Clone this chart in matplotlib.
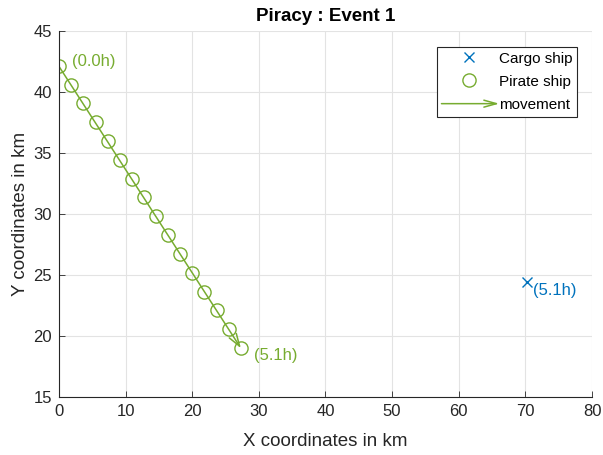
import matplotlib
matplotlib.use('Agg')
import matplotlib.pyplot as plt
from matplotlib.patches import FancyArrowPatch
from matplotlib.legend_handler import HandlerPatch

plt.rcParams['font.family'] = ['Liberation Sans', 'DejaVu Sans']

# Pirate ship track (km)
pirate_x = [0.0, 1.8, 3.6, 5.5, 7.3, 9.1, 10.9, 12.7, 14.6, 16.4, 18.2, 20.0, 21.8, 23.7, 25.5, 27.3]
pirate_y = [42.1, 40.6, 39.1, 37.5, 36.0, 34.4, 32.9, 31.4, 29.8, 28.3, 26.7, 25.2, 23.6, 22.1, 20.6, 19.0]
pirate_labels = ['(0.0h)', '(5.1h)']

# Cargo ship position (km)
cargo_x = [70.2]
cargo_y = [24.4]
cargo_label = '(5.1h)'

green = '#77AC30'
blue = '#0072BD'
dark = '#262626'


# Legend handler drawing an arrow for the movement entry
class HandlerArrow(HandlerPatch):
    def create_artists(self, legend, orig_handle, xdescent, ydescent,
                       width, height, fontsize, trans):
        arrow = FancyArrowPatch((-xdescent, height / 2), (width - xdescent + 2, height / 2),
                                arrowstyle='->,head_length=9,head_width=2.5',
                                color=green, lw=1.1, transform=trans,
                                shrinkA=0, shrinkB=0)
        return [arrow]


fig = plt.figure(figsize=(6.03, 4.55), dpi=100)
ax = fig.add_axes([0.0978, 0.1275, 0.884, 0.8044])

ax.plot(cargo_x, cargo_y, 'x', color=blue, markersize=7, mew=1.0, label='Cargo ship')
ax.plot(pirate_x, pirate_y, 'o', color=green, mfc='none', markersize=9.5, mew=1.0,
        label='Pirate ship')

# movement arrow from start to end
arr = FancyArrowPatch((pirate_x[0], pirate_y[0]), (pirate_x[-1], pirate_y[-1]),
                      arrowstyle='->,head_length=9,head_width=3', color=green, lw=1.1,
                      shrinkA=0, shrinkB=0)
ax.add_patch(arr)

ax.text(1.95, 42.5, pirate_labels[0], color=green, fontsize=12, va='center')
ax.text(29.3, 18.4, pirate_labels[1], color=green, fontsize=12, va='center')
ax.text(71.2, 23.7, cargo_label, color=blue, fontsize=12, va='center')

ax.set_xlim(0, 80)
ax.set_ylim(15, 45)
ax.set_xticks(range(0, 81, 10))
ax.set_yticks(range(15, 46, 5))
ax.grid(True, color='#e3e3e3', lw=0.8)
ax.set_axisbelow(True)
ax.spines['top'].set_visible(False)
ax.spines['right'].set_visible(False)
for s in ['left', 'bottom']:
    ax.spines[s].set_linewidth(0.8)
    ax.spines[s].set_color(dark)
ax.tick_params(direction='in', labelsize=12, length=4, width=0.6,
               colors=dark, pad=5)
ax.set_xlabel('X coordinates in km', fontsize=13.5, color=dark, labelpad=10)
ax.set_ylabel('Y coordinates in km', fontsize=13.5, color=dark, labelpad=3)
ax.set_title('Piracy : Event 1', fontsize=13.5, fontweight='bold', pad=7, color='black')

handles, labels = ax.get_legend_handles_labels()
move_handle = FancyArrowPatch((0, 0), (1, 0))
leg = ax.legend(handles + [move_handle], labels + ['movement'],
                handler_map={FancyArrowPatch: HandlerArrow()},
                loc='upper right', bbox_to_anchor=(0.9715, 0.956),
                fontsize=11, fancybox=False, edgecolor=dark, framealpha=1,
                borderpad=0.3, labelspacing=0.6, handlelength=3.6,
                handletextpad=0.15, borderaxespad=0)
leg.get_frame().set_linewidth(0.8)

fig.savefig('out.png', dpi=100)
